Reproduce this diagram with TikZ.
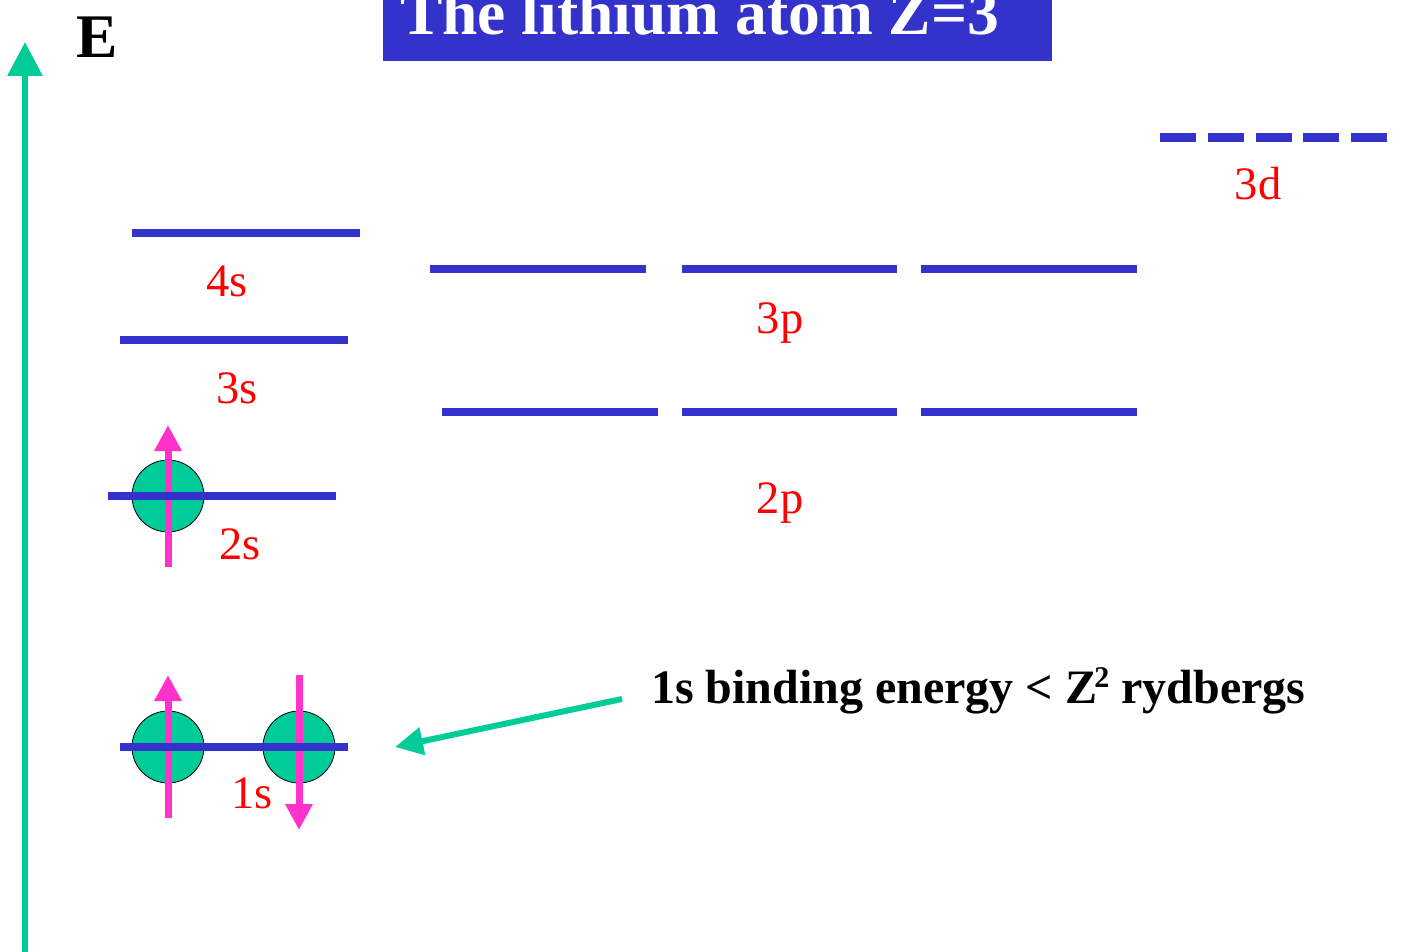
\documentclass[tikz,border=0pt]{standalone}
\usepackage{fontspec}
\setmainfont{Liberation Serif}
\usetikzlibrary{arrows.meta}
\definecolor{lvlblue}{HTML}{3333CC}
\definecolor{egreen}{HTML}{00CC99}
\definecolor{spinpink}{HTML}{FF33CC}
\definecolor{lblred}{HTML}{FF0000}
\tikzset{
  level/.style={draw=lvlblue, line width=8pt},
  lbl/.style={text=lblred, font=\fontsize{46.5}{54}\selectfont, inner sep=0pt, anchor=base},
  electron/.style={circle, draw=black, line width=0.8pt, fill=egreen, minimum size=72pt, inner sep=0pt},
  spin/.style={draw=spinpink, line width=7pt, -{Triangle[length=26pt,width=26pt]}},
  pointer/.style={draw=egreen, line width=6pt, -{Triangle[length=28pt,width=27pt]}},
}
\begin{document}
\begin{tikzpicture}[x=1pt,y=-1pt]
\useasboundingbox (0,0) rectangle (1401,952);
% energy axis
\coordinate (axb) at (25,952);
\coordinate (axt) at (25,42);
\draw[egreen, line width=6pt, -{Triangle[length=34pt,width=34pt]}] (axb) -- (axt);
\node[inner sep=0pt, anchor=base west, font=\bfseries\fontsize{62}{70}\selectfont] (E) at (76,58) {E};
% title
\fill[lvlblue] (383,0) rectangle (1052,61);
\node[inner sep=0pt, anchor=base west, text=white, font=\bfseries\fontsize{63.5}{70}\selectfont] (title) at (400,35) {The lithium atom Z=3};
% electrons (behind levels)
\node[electron] (e2s) at (168,496) {};
\node[electron] (e1a) at (168,747) {};
\node[electron] (e1b) at (299,747) {};
% spins
\coordinate (s2a) at (168,567); \coordinate (s2b) at (168,425);
\coordinate (s1a) at (168,818); \coordinate (s1b) at (168,675);
\coordinate (s1c) at (299,675); \coordinate (s1d) at (299,830);
\draw[spin] (s2a) -- (s2b);
\draw[spin] (s1a) -- (s1b);
\draw[spin] (s1c) -- (s1d);
% levels
\draw[level] (132,233) -- (360,233);
\draw[level] (120,340) -- (348,340);
\draw[level] (108,496) -- (336,496);
\draw[level] (120,747) -- (348,747);
\draw[level] (430,269) -- (646,269);
\draw[level] (682,269) -- (897,269);
\draw[level] (921,269) -- (1137,269);
\draw[level] (442,412) -- (658,412);
\draw[level] (682,412) -- (897,412);
\draw[level] (921,412) -- (1137,412);
\draw[level, line width=9pt, dash pattern=on 36pt off 11.75pt] (1160,138) -- (1387,138);
% labels
\node[lbl] (l4s) at (227,297) {4s};
\node[lbl] (l3s) at (237,403) {3s};
\node[lbl] (l2s) at (240,559) {2s};
\node[lbl] (l1s) at (252,808) {1s};
\node[lbl] (l3p) at (780,333) {3p};
\node[lbl] (l2p) at (780,513) {2p};
\node[lbl] (l3d) at (1258,200) {3d};
% binding energy note
\node[inner sep=0pt, anchor=base west, font=\bfseries\fontsize{48}{56}\selectfont] (note) at (651,703) {1s binding energy < Z\kern-0.06em\raisebox{0.33em}{\fontsize{30}{30}\selectfont 2} rydbergs};
\coordinate (pfrom) at (622,699);
\coordinate (pto) at (395,747);
\draw[pointer] (pfrom) -- (pto);
\end{tikzpicture}
\end{document}
